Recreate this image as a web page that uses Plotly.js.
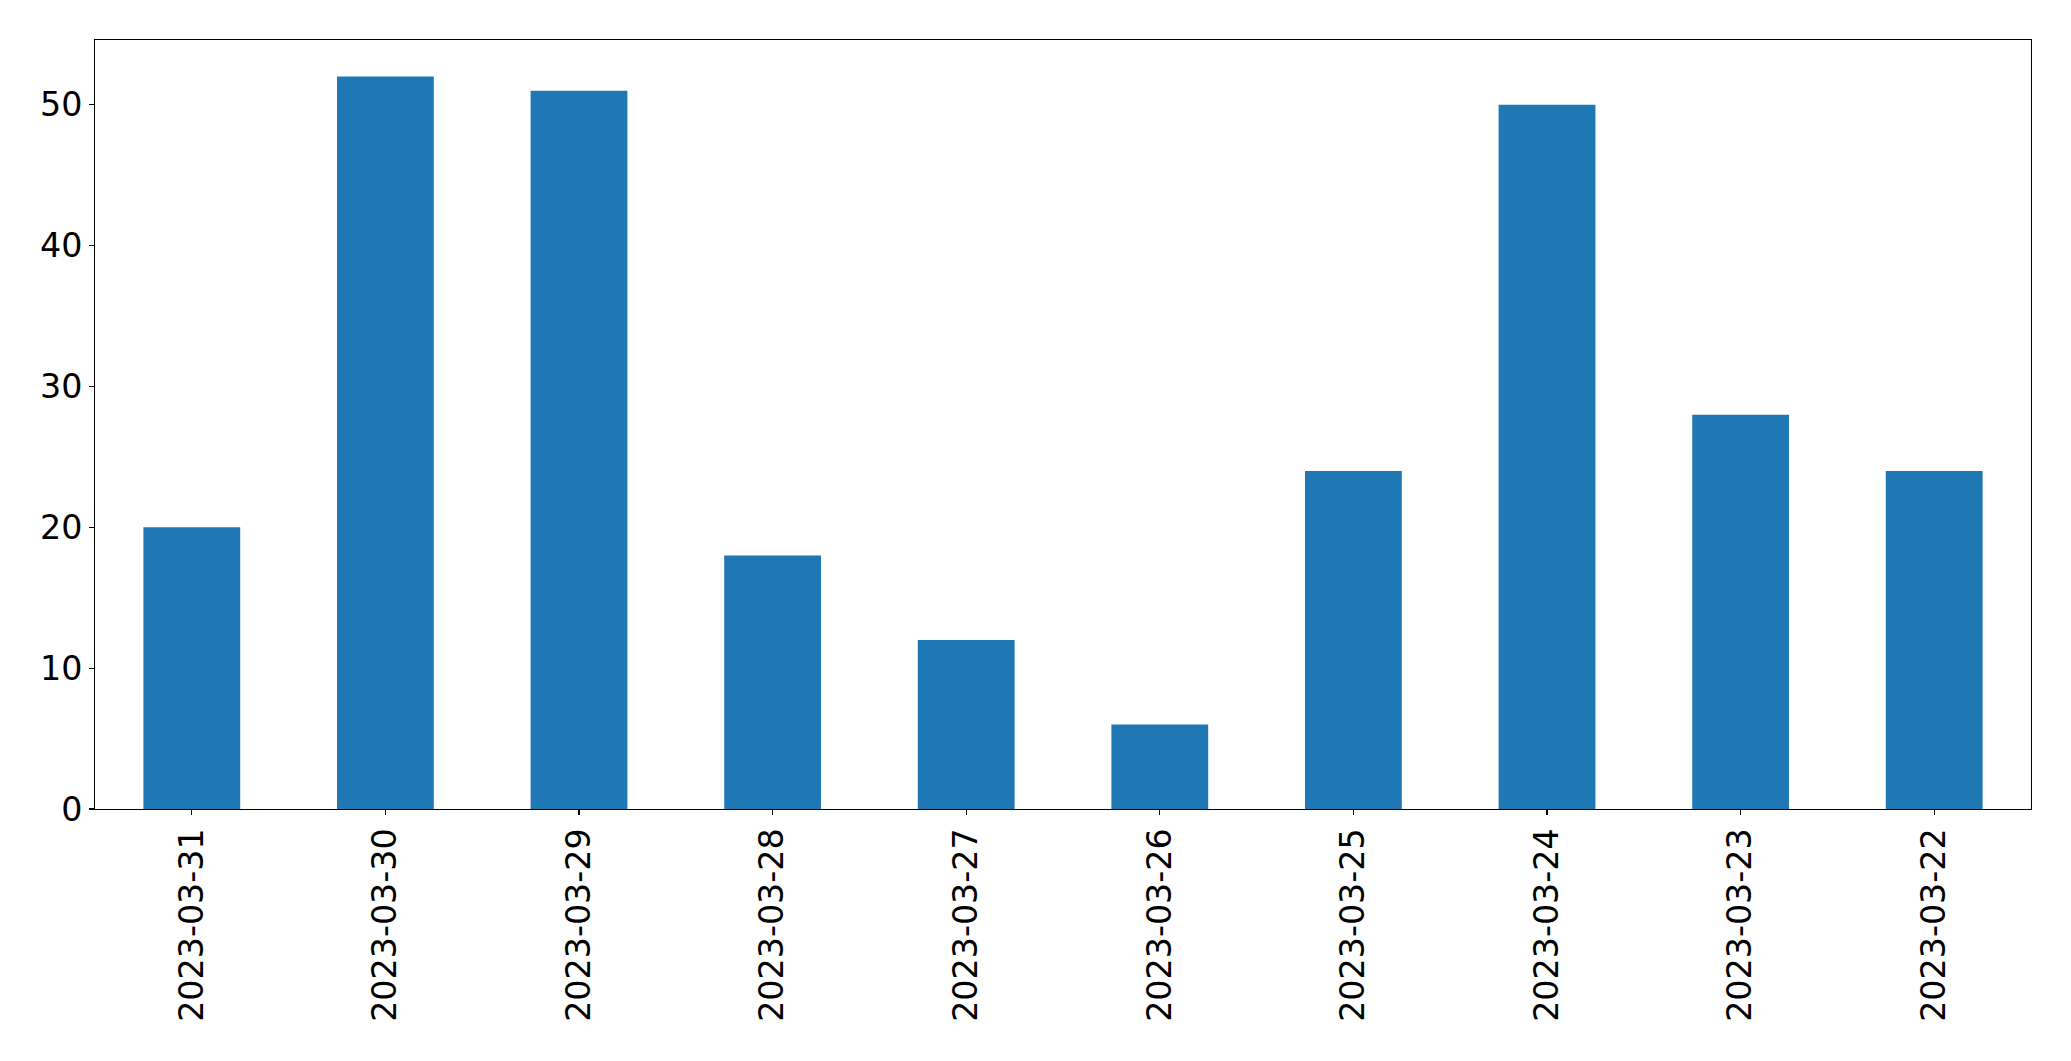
<!DOCTYPE html>
<html>
<head>
<meta charset="utf-8">
<script src="https://cdn.plot.ly/plotly-3.0.1.min.js"></script>
<style>html,body{margin:0;padding:0;background:#fff;}#chart{width:2071px;height:1061px;}</style>
</head>
<body>
<div id="chart"></div>
<script>
const categories = ["2023-03-31","2023-03-30","2023-03-29","2023-03-28","2023-03-27","2023-03-26","2023-03-25","2023-03-24","2023-03-23","2023-03-22"];
const values = [20, 52, 51, 18, 12, 6, 24, 50, 28, 24];
const yTicks = [0, 10, 20, 30, 40, 50];

const trace = {
  type: 'bar',
  x: categories,
  y: values,
  width: 0.5,
  marker: {color: '#1f77b4', line: {width: 0}},
  hoverinfo: 'x+y'
};

const font = {family: 'DejaVu Sans', size: 33.3, color: '#000'};

const layout = {
  width: 2071,
  height: 1061,
  paper_bgcolor: '#fff',
  plot_bgcolor: '#fff',
  showlegend: false,
  margin: {l: 94.5, r: 39.5, t: 39.5, b: 252, pad: 0},
  font: font,
  xaxis: {
    type: 'category',
    range: [-0.5, 9.5],
    tickangle: -90,
    ticks: 'outside',
    ticklen: 4.9,
    tickwidth: 1.1,
    tickcolor: '#000',
    showline: true,
    linecolor: '#000',
    linewidth: 1.1,
    mirror: true,
    showgrid: false,
    zeroline: false,
    automargin: false,
    tickfont: font
  },
  yaxis: {
    range: [0, 54.6],
    tickvals: yTicks,
    ticktext: yTicks.map(String),
    ticks: 'outside',
    ticklen: 4.9,
    tickwidth: 1.1,
    tickcolor: '#000',
    showline: true,
    linecolor: '#000',
    linewidth: 1.1,
    mirror: true,
    showgrid: false,
    zeroline: false,
    automargin: false,
    tickfont: font
  }
};

Plotly.newPlot('chart', [trace], layout, {displayModeBar: false, staticPlot: true});
</script>
</body>
</html>
